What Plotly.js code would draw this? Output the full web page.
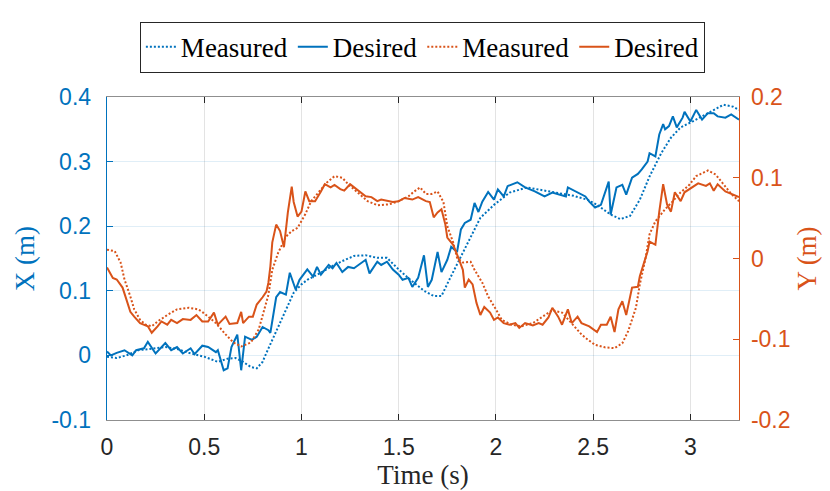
<!DOCTYPE html>
<html>
<head>
<meta charset="utf-8">
<script src="https://cdn.plot.ly/plotly-3.0.1.min.js"></script>
<style>html,body{margin:0;padding:0;background:#fff;}#chart{width:830px;height:491px;}</style>
</head>
<body>
<div id="chart"></div>
<script>
// X measured (left axis, m)
const tMeasX = [0,0.05,0.1,0.16,0.22,0.3,0.36,0.42,0.5,0.57,0.62,0.66,0.7,0.74,0.77,0.8,0.82,0.86,0.89,0.93,0.96,1.0,1.03,1.1,1.15,1.21,1.27,1.33,1.39,1.44,1.5,1.56,1.63,1.68,1.72,1.76,1.82,1.87,1.92,1.99,2.07,2.16,2.23,2.3,2.4,2.47,2.52,2.59,2.64,2.69,2.74,2.79,2.85,2.9,2.95,3.01,3.1,3.17,3.22,3.25];
const measX = [-0.002,-0.004,0.0,0.008,0.01,0.013,0.01,0.004,-0.002,-0.01,-0.005,-0.004,-0.01,-0.018,-0.02,-0.01,0.004,0.03,0.05,0.078,0.097,0.11,0.117,0.128,0.137,0.146,0.154,0.155,0.151,0.151,0.133,0.117,0.10,0.092,0.092,0.117,0.153,0.182,0.213,0.233,0.252,0.26,0.256,0.252,0.247,0.241,0.233,0.218,0.211,0.216,0.241,0.277,0.313,0.337,0.353,0.362,0.377,0.388,0.385,0.38];

// X desired (left axis, m)
const tDesX = [0,0.02,0.05,0.09,0.13,0.15,0.19,0.21,0.25,0.3,0.33,0.36,0.39,0.43,0.45,0.49,0.52,0.56,0.57,0.6,0.62,0.64,0.67,0.69,0.71,0.745,0.77,0.8,0.83,0.84,0.87,0.89,0.92,0.94,0.97,0.99,1.03,1.06,1.08,1.1,1.14,1.16,1.18,1.21,1.24,1.27,1.33,1.35,1.39,1.41,1.44,1.47,1.5,1.52,1.55,1.57,1.6,1.63,1.65,1.67,1.7,1.72,1.75,1.77,1.8,1.82,1.84,1.87,1.89,1.91,1.93,1.96,1.99,2.01,2.04,2.06,2.11,2.15,2.2,2.25,2.29,2.32,2.36,2.37,2.41,2.44,2.46,2.48,2.51,2.54,2.56,2.58,2.59,2.62,2.65,2.67,2.7,2.73,2.75,2.78,2.79,2.82,2.84,2.86,2.87,2.89,2.91,2.93,2.96,2.97,3.0,3.03,3.06,3.09,3.12,3.14,3.18,3.21,3.25];
const desX = [0.006,0.0,0.004,0.008,0.0,0.008,0.011,0.021,0.003,0.019,0.008,0.013,0.003,0.011,0.002,0.015,0.013,0.005,0.008,-0.023,-0.02,0.013,0.032,-0.023,0.029,0.024,0.029,0.044,0.039,0.035,0.09,0.098,0.094,0.128,0.102,0.117,0.133,0.122,0.137,0.125,0.14,0.135,0.143,0.129,0.137,0.135,0.148,0.127,0.145,0.14,0.145,0.133,0.125,0.117,0.12,0.106,0.12,0.155,0.106,0.117,0.16,0.129,0.148,0.168,0.16,0.195,0.205,0.21,0.236,0.222,0.238,0.253,0.241,0.257,0.246,0.262,0.268,0.26,0.254,0.246,0.252,0.249,0.246,0.26,0.254,0.249,0.246,0.238,0.229,0.233,0.253,0.269,0.218,0.26,0.264,0.249,0.275,0.281,0.288,0.3,0.313,0.308,0.342,0.358,0.35,0.355,0.37,0.353,0.368,0.377,0.362,0.38,0.365,0.375,0.375,0.37,0.368,0.373,0.365];

// Y measured (right axis, m)
const tMeasY = [0,0.04,0.07,0.09,0.12,0.14,0.17,0.2,0.23,0.26,0.31,0.36,0.42,0.47,0.5,0.56,0.61,0.65,0.69,0.74,0.78,0.81,0.83,0.85,0.88,0.92,0.95,0.98,1.02,1.05,1.09,1.13,1.17,1.21,1.24,1.29,1.34,1.39,1.45,1.5,1.55,1.58,1.61,1.64,1.67,1.7,1.73,1.75,1.78,1.8,1.83,1.87,1.89,1.93,1.96,2.0,2.03,2.08,2.13,2.19,2.24,2.29,2.34,2.39,2.44,2.47,2.51,2.56,2.61,2.65,2.68,2.72,2.74,2.77,2.79,2.82,2.84,2.87,2.91,2.95,2.99,3.03,3.09,3.13,3.17,3.21,3.25];
const measY = [0.011,0.009,-0.005,-0.026,-0.047,-0.063,-0.076,-0.082,-0.084,-0.078,-0.07,-0.063,-0.061,-0.063,-0.068,-0.08,-0.094,-0.104,-0.109,-0.104,-0.088,-0.063,-0.045,-0.014,0.007,0.027,0.034,0.038,0.055,0.071,0.083,0.094,0.102,0.1,0.092,0.082,0.071,0.066,0.067,0.071,0.077,0.083,0.088,0.08,0.08,0.083,0.07,0.04,0.02,0.001,-0.005,-0.004,-0.014,-0.03,-0.047,-0.063,-0.076,-0.082,-0.084,-0.08,-0.072,-0.064,-0.067,-0.08,-0.094,-0.1,-0.107,-0.11,-0.111,-0.105,-0.09,-0.061,-0.032,0.001,0.03,0.046,0.052,0.061,0.071,0.082,0.09,0.102,0.109,0.104,0.092,0.08,0.071];

// Y desired (right axis, m)
const tDesY = [0,0.03,0.05,0.08,0.1,0.12,0.14,0.17,0.21,0.23,0.26,0.28,0.31,0.33,0.36,0.39,0.43,0.46,0.49,0.52,0.55,0.57,0.61,0.63,0.67,0.69,0.7,0.73,0.75,0.77,0.8,0.82,0.83,0.84,0.85,0.87,0.89,0.91,0.93,0.95,0.96,0.98,1.0,1.02,1.04,1.07,1.1,1.12,1.15,1.17,1.2,1.22,1.25,1.28,1.3,1.33,1.36,1.39,1.41,1.45,1.47,1.5,1.53,1.57,1.6,1.64,1.66,1.68,1.7,1.72,1.74,1.75,1.78,1.8,1.83,1.84,1.86,1.88,1.9,1.92,1.94,1.97,1.99,2.01,2.04,2.07,2.1,2.12,2.15,2.19,2.22,2.24,2.27,2.29,2.32,2.34,2.37,2.39,2.42,2.44,2.47,2.48,2.52,2.54,2.57,2.59,2.61,2.63,2.65,2.67,2.7,2.73,2.74,2.76,2.78,2.79,2.82,2.84,2.86,2.88,2.9,2.92,2.95,2.97,3.01,3.04,3.08,3.1,3.12,3.14,3.18,3.21,3.25];
const desY = [-0.011,-0.024,-0.026,-0.036,-0.051,-0.066,-0.072,-0.08,-0.084,-0.092,-0.084,-0.078,-0.082,-0.076,-0.08,-0.075,-0.076,-0.07,-0.078,-0.078,-0.067,-0.082,-0.072,-0.081,-0.08,-0.066,-0.08,-0.072,-0.072,-0.057,-0.048,-0.041,-0.03,-0.01,0.02,0.042,0.034,0.014,0.057,0.089,0.07,0.052,0.058,0.083,0.071,0.071,0.083,0.092,0.088,0.091,0.086,0.084,0.092,0.086,0.082,0.077,0.076,0.071,0.073,0.071,0.07,0.071,0.075,0.073,0.076,0.071,0.07,0.051,0.057,0.061,0.042,0.026,0.017,0.005,-0.014,-0.036,-0.026,-0.032,-0.055,-0.07,-0.06,-0.067,-0.076,-0.073,-0.08,-0.082,-0.08,-0.086,-0.08,-0.083,-0.08,-0.082,-0.073,-0.061,-0.072,-0.082,-0.063,-0.08,-0.072,-0.08,-0.083,-0.084,-0.091,-0.082,-0.082,-0.072,-0.091,-0.063,-0.053,-0.07,-0.036,-0.035,-0.022,-0.007,0.009,0.021,0.017,0.058,0.092,0.067,0.058,0.082,0.071,0.082,0.088,0.093,0.09,0.093,0.084,0.092,0.083,0.08,0.076];

const xTicks = [0,0.5,1,1.5,2,2.5,3];
const xTickText = ['0','0.5','1','1.5','2','2.5','3'];
const y1Ticks = [-0.1,0,0.1,0.2,0.3,0.4];
const y1TickText = ['-0.1','0','0.1','0.2','0.3','0.4'];
const y2Ticks = [-0.2,-0.1,0,0.1,0.2];
const y2TickText = ['-0.2','-0.1','0','0.1','0.2'];
const legendNames = ['Measured','Desired','Measured','Desired'];

const BLUE = '#0072BD', ORANGE = '#D95319';
const traces = [
  {x:tMeasX, y:measX, name:legendNames[0], mode:'lines', line:{color:BLUE, width:2, dash:'2px,2px'}, yaxis:'y'},
  {x:tDesX, y:desX, name:legendNames[1], mode:'lines', line:{color:BLUE, width:2}, yaxis:'y'},
  {x:tMeasY, y:measY, name:legendNames[2], mode:'lines', line:{color:ORANGE, width:2, dash:'2px,2px'}, yaxis:'y2'},
  {x:tDesY, y:desY, name:legendNames[3], mode:'lines', line:{color:ORANGE, width:2}, yaxis:'y2'}
];

const tickFont = {family:'Liberation Sans, Arial, sans-serif', size:23};
const serif = 'Liberation Serif, Times New Roman, serif';

const layout = {
  width:830, height:491,
  margin:{l:107, r:91, t:97, b:71},
  paper_bgcolor:'#fff', plot_bgcolor:'#fff',
  showlegend:true,
  legend:{orientation:'h', x:0.499, xanchor:'center', y:1.075, yanchor:'bottom',
          font:{family:serif, size:27, color:'#000'}, bgcolor:'#fff',
          bordercolor:'#262626', borderwidth:1, itemwidth:30, traceorder:'normal'},
  xaxis:{range:[0,3.25], tickvals:xTicks, ticktext:xTickText, ticks:'inside', ticklen:6,
         tickcolor:'#262626', tickwidth:1, showline:true, linecolor:'#8f8f8f', linewidth:1.3,
         mirror:'ticks', showgrid:true, gridcolor:'rgba(38,38,38,0.13)', gridwidth:1,
         zeroline:false, tickfont:Object.assign({color:'#262626'}, tickFont), ticklabelstandoff:6,
         title:{text:'Time (s)', font:{family:serif, size:27, color:'#262626'}, standoff:3}},
  yaxis:{range:[-0.1,0.4], tickvals:y1Ticks, ticktext:y1TickText, ticks:'inside', ticklen:6,
         tickcolor:BLUE, showline:true, linecolor:BLUE, linewidth:1.3, showgrid:true,
         gridcolor:'rgba(0,114,189,0.12)', zeroline:false,
         tickfont:Object.assign({color:BLUE}, tickFont), ticklabelstandoff:10,
         title:{text:'X (m)', font:{family:serif, size:27, color:BLUE}, standoff:9}},
  yaxis2:{range:[-0.2,0.2], tickvals:y2Ticks, ticktext:y2TickText, overlaying:'y', side:'right',
         ticks:'inside', ticklen:6, tickcolor:ORANGE, showline:true, linecolor:ORANGE, linewidth:1.3,
         showgrid:false, zeroline:false, tickfont:Object.assign({color:ORANGE}, tickFont), ticklabelstandoff:6,
         title:{text:'Y (m)', font:{family:serif, size:27, color:ORANGE}, standoff:7}}
};

Plotly.newPlot('chart', traces, layout, {displayModeBar:false, staticPlot:true});
</script>
</body>
</html>
